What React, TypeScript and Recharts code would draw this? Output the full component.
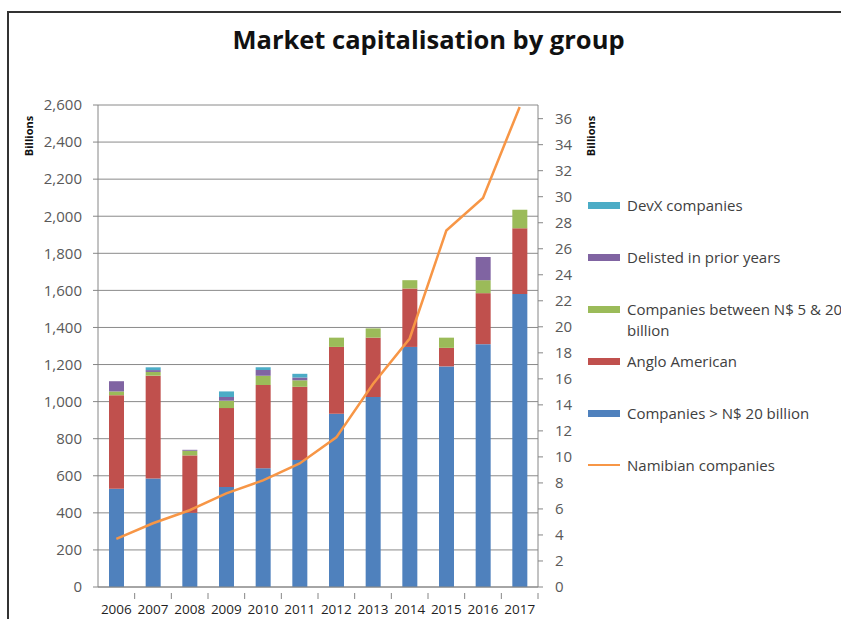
import React from 'react';
import { Bar, ComposedChart, CartesianGrid, Legend, Line, XAxis, YAxis } from 'recharts';

const years = ['2006', '2007', '2008', '2009', '2010', '2011', '2012', '2013', '2014', '2015', '2016', '2017'];
const above20 = [530, 585, 400, 540, 640, 685, 935, 1025, 1295, 1190, 1310, 1580];
const anglo = [505, 555, 310, 425, 450, 395, 360, 320, 315, 100, 275, 355];
const between = [20, 20, 25, 40, 50, 35, 50, 50, 45, 55, 70, 100];
const delisted = [55, 10, 5, 20, 30, 15, 0, 0, 0, 0, 125, 0];
const devx = [0, 15, 0, 30, 15, 20, 0, 0, 0, 0, 0, 0];
const namibian = [3.7, 4.9, 5.9, 7.2, 8.2, 9.5, 11.5, 15.6, 19.1, 27.4, 29.9, 36.9];

const leftTicks = [0, 200, 400, 600, 800, 1000, 1200, 1400, 1600, 1800, 2000, 2200, 2400, 2600];
const rightTicks = [0, 2, 4, 6, 8, 10, 12, 14, 16, 18, 20, 22, 24, 26, 28, 30, 32, 34, 36];

const legendItems = [
  { label: ['DevX companies'], color: '#4BACC6', type: 'bar' },
  { label: ['Delisted in prior years'], color: '#8064A2', type: 'bar' },
  { label: ['Companies between N$ 5 & 20', 'billion'], color: '#9BBB59', type: 'bar' },
  { label: ['Anglo American'], color: '#C0504D', type: 'bar' },
  { label: ['Companies > N$ 20 billion'], color: '#4F81BD', type: 'bar' },
  { label: ['Namibian companies'], color: '#F79646', type: 'line' },
];

const data = years.map((year, i) => ({
  year,
  above20: above20[i],
  anglo: anglo[i],
  between: between[i],
  delisted: delisted[i],
  devx: devx[i],
  namibian: namibian[i],
}));

const FONT = '"Open Sans", sans-serif';
const PLOT_LEFT = 98;
const PLOT_RIGHT = 538;
const BAND = (PLOT_RIGHT - PLOT_LEFT) / years.length;

const XTick = (props: any) => {
  const { x, y, payload } = props;
  return (
    <g>
      <line x1={x + BAND / 2} x2={x + BAND / 2} y1={y - 2} y2={y + 4} stroke="#868686" />
      <text x={x} y={y + 19} textAnchor="middle" fontSize={13.5} fill="#1f1f1f" fontFamily={FONT}>
        {payload.value}
      </text>
    </g>
  );
};

const LegendBox = () => (
  <div style={{ fontFamily: FONT, fontSize: 15, color: '#404040' }}>
    {legendItems.map((item, i) => (
      <div key={i} style={{ display: 'flex', alignItems: 'flex-start', height: 52, whiteSpace: 'nowrap' }}>
        <div style={{ width: 32, height: 20, display: 'flex', alignItems: 'center', marginRight: 7 }}>
          {item.type === 'bar' ? (
            <div style={{ width: 32, height: 7, background: item.color }} />
          ) : (
            <div style={{ width: 32, height: 2, background: item.color }} />
          )}
        </div>
        <div style={{ lineHeight: '21px' }}>
          {item.label.map((l, j) => (
            <div key={j}>{l}</div>
          ))}
        </div>
      </div>
    ))}
  </div>
);

export default function App() {
  return (
    <div
      style={{
        position: 'fixed',
        left: 0,
        top: 0,
        width: 841,
        height: 619,
        background: '#fff',
        overflow: 'hidden',
        fontFamily: FONT,
      }}
    >
      <div
        style={{
          position: 'absolute',
          left: 7,
          top: 11,
          width: 900,
          height: 700,
          borderLeft: '2px solid #333',
          borderTop: '2px solid #333',
        }}
      />
      <div
        style={{
          position: 'absolute',
          left: 0,
          width: 841,
          top: 22,
          textAlign: 'center',
          fontSize: 25.5,
          fontWeight: 700,
          color: '#111',
          paddingLeft: 8,
        }}
      >
        Market capitalisation by group
      </div>
      <div
        style={{
          position: 'absolute',
          left: 28,
          top: 136,
          transform: 'translate(-50%, -50%) rotate(-90deg)',
          fontSize: 11,
          fontWeight: 700,
          color: '#111',
        }}
      >
        Billions
      </div>
      <div
        style={{
          position: 'absolute',
          left: 590,
          top: 136,
          transform: 'translate(-50%, -50%) rotate(-90deg)',
          fontSize: 11,
          fontWeight: 700,
          color: '#111',
        }}
      >
        Billions
      </div>
      <div style={{ position: 'absolute', left: 0, top: 0 }}>
        <ComposedChart
          width={841}
          height={619}
          data={data}
          margin={{ top: 105, right: 263, left: 38, bottom: 2 }}
          barSize={15}
        >
          <CartesianGrid vertical={false} stroke="#8a8a8a" yAxisId="left" />
          <XAxis
            dataKey="year"
            height={30}
            axisLine={{ stroke: '#868686' }}
            tickLine={false}
            tick={<XTick />}
            interval={0}
          />
          <YAxis
            yAxisId="left"
            width={60}
            domain={[0, 2600]}
            ticks={leftTicks}
            tickFormatter={(v) => Number(v).toLocaleString('en-US')}
            axisLine={{ stroke: '#868686' }}
            tickLine={{ stroke: '#868686' }}
            tickSize={5}
            tickMargin={11}
            tick={{ fontSize: 15, fill: '#595959', fontFamily: FONT }}
            interval={0}
          />
          <YAxis
            yAxisId="right"
            orientation="right"
            width={40}
            domain={[0, 37.05]}
            ticks={rightTicks}
            allowDataOverflow
            axisLine={{ stroke: '#868686' }}
            tickLine={{ stroke: '#868686' }}
            tickSize={5}
            tickMargin={12}
            tick={{ fontSize: 15, fill: '#595959', fontFamily: FONT }}
            interval={0}
          />
          <Legend
            layout="vertical"
            align="center"
            verticalAlign="middle"
            content={<LegendBox />}
            wrapperStyle={{ left: 588, top: 195, width: 260 }}
          />
          <Bar yAxisId="left" dataKey="above20" stackId="a" fill="#4F81BD" isAnimationActive={false} />
          <Bar yAxisId="left" dataKey="anglo" stackId="a" fill="#C0504D" isAnimationActive={false} />
          <Bar yAxisId="left" dataKey="between" stackId="a" fill="#9BBB59" isAnimationActive={false} />
          <Bar yAxisId="left" dataKey="delisted" stackId="a" fill="#8064A2" isAnimationActive={false} />
          <Bar yAxisId="left" dataKey="devx" stackId="a" fill="#4BACC6" isAnimationActive={false} />
          <Line
            yAxisId="right"
            dataKey="namibian"
            stroke="#F79646"
            strokeWidth={2.5}
            dot={false}
            isAnimationActive={false}
          />
        </ComposedChart>
      </div>
    </div>
  );
}
